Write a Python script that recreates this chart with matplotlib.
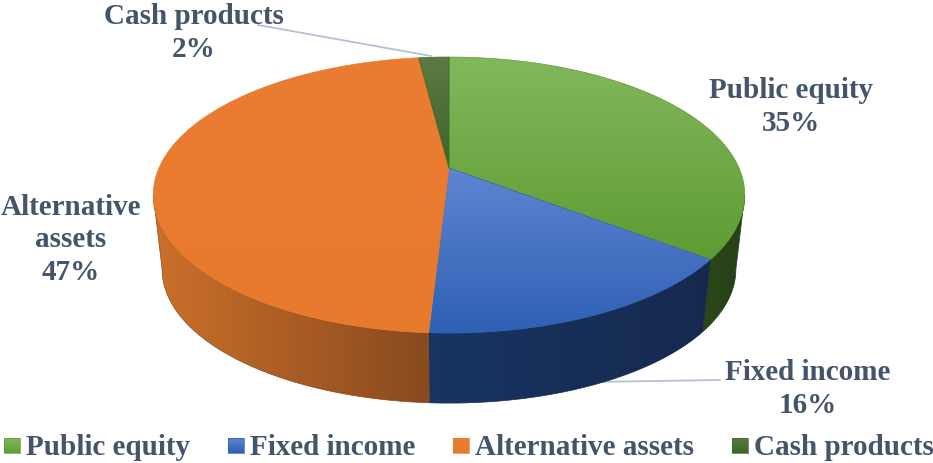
import numpy as np
import matplotlib
matplotlib.use("Agg")
import matplotlib.pyplot as plt
from matplotlib.colors import LinearSegmentedColormap
from matplotlib.patches import Polygon

# data
labels = ["Public equity", "Fixed income", "Alternative assets", "Cash products"]
shares = [35.4, 15.5, 47.1, 2.0]
pct_labels = ["35%", "16%", "47%", "2%"]

# colours top (start, end) and side wall (left, right)
top_colors = [("#82b85c", "#5e9c33"), ("#5f85d2", "#2e60b4"), ("#ea7d31", "#e87a2e"), ("#5b7a45", "#3f6527")]
wall_colors = [("#2b4717", "#27401a"), ("#183563", "#16294d"), ("#cc702b", "#884a1e"), ("#2b4717", "#2b4717")]
text_color = "#44546a"
line_color = "#b4c1d2"

# pie geometry, in pixels of the picture
cx, cy = 449, 169
A, s, p = 290, 132.7, 0.196
wall_scale, wall_drop = 0.97, 75

plt.rcParams["font.family"] = ["Liberation Serif", "DejaVu Serif"]
plt.rcParams["font.weight"] = "bold"

fig = plt.figure(figsize=(9.33, 4.64), dpi=100)
ax = fig.add_axes([0, 0, 1, 1])


def rim(t0, t1, wall=False):
    # t is clockwise from the top, in degrees
    t = np.radians(np.linspace(t0, t1, 200))
    x, y = np.sin(t), np.cos(t)
    d = 1 + p * y
    X, Y = A * x / d, s * y / d
    if wall:
        return cx + wall_scale * X, cy - wall_scale * Y + wall_drop
    return cx + X, cy - Y


def gradient_poly(xs, ys, colors, vertical, z):
    pts = np.column_stack([xs, ys])
    poly = Polygon(pts, closed=True, fc="none", ec="none", zorder=z)
    ax.add_patch(poly)
    cmap = LinearSegmentedColormap.from_list("g", colors)
    g = np.linspace(0, 1, 256)
    g = g[:, None] if vertical else g[None, :]
    im = ax.imshow(g, cmap=cmap, extent=[xs.min(), xs.max(), ys.max(), ys.min()],
                   aspect="auto", zorder=z, interpolation="bilinear")
    im.set_clip_path(poly)
    # soft edge so the clipped picture is not jagged
    ax.add_patch(Polygon(pts, closed=True, fc="none", ec=colors[-1], lw=0.5, zorder=z))


ends = np.cumsum(shares) / sum(shares) * 360
starts = np.concatenate([[0], ends[:-1]])

# only the front of the wall shows, between the two widest points of the rim
vis0 = np.degrees(np.arccos(-p))
vis1 = 360 - vis0

for i in range(len(shares)):
    t0, t1 = max(starts[i], vis0), min(ends[i], vis1)
    if t1 <= t0:
        continue
    x1, y1 = rim(t0, t1)
    x2, y2 = rim(t0, t1, wall=True)
    gradient_poly(np.r_[x1, x2[::-1]], np.r_[y1, y2[::-1]], wall_colors[i], False, 2 + i * 0.1)

# top of the pie
for i in range(len(shares)):
    x1, y1 = rim(starts[i], ends[i])
    gradient_poly(np.r_[cx, x1], np.r_[cy, y1], top_colors[i], True, 4 + i * 0.1)

# leader lines
ax.plot([258, 431], [26, 57], color=line_color, lw=1.3, zorder=6)
ax.plot([590, 720], [383, 381], color=line_color, lw=1.3, zorder=1)

# data labels
fs = 21
pos = [(791, 107), (808, 389), (71, 240), (194, 33)]
names = ["Public equity", "Fixed income", "Alternative\nassets", "Cash products"]
for (x, y), n, pc in zip(pos, names, pct_labels):
    ax.text(x, y, n + "\n" + pc, ha="center", va="center", color=text_color, fontsize=fs, linespacing=1.25, zorder=7)

# legend
leg_x = [4, 228, 453, 732]
for i in range(len(labels)):
    xs = np.array([leg_x[i], leg_x[i] + 16, leg_x[i] + 16, leg_x[i]], dtype=float)
    ys = np.array([439, 439, 454, 454], dtype=float)
    gradient_poly(xs, ys, top_colors[i], True, 5)
    ax.text(leg_x[i] + 22, 448, labels[i], ha="left", va="center", color=text_color, fontsize=fs, zorder=7)

ax.set_xlim(0, 933)
ax.set_ylim(464, 0)
ax.axis("off")

fig.savefig("out.png", dpi=100)
